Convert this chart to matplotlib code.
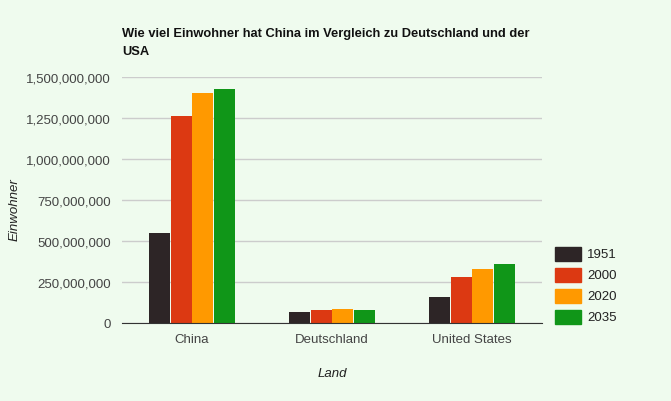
import numpy as np
import matplotlib
matplotlib.use("Agg")
import matplotlib.pyplot as plt
from matplotlib.ticker import FuncFormatter
from matplotlib.patches import Rectangle

countries = ["China", "Deutschland", "United States"]
years = ["1951", "2000", "2020", "2035"]
pop_1951 = [546_000_000, 66_000_000, 157_000_000]
pop_2000 = [1_262_000_000, 82_000_000, 282_000_000]
pop_2020 = [1_404_000_000, 83_000_000, 332_000_000]
pop_2035 = [1_428_000_000, 82_000_000, 362_000_000]
colors = ["#2d2526", "#dc3912", "#ff9900", "#109618"]

bg = "#effbee"
plt.rcParams["font.family"] = ["Liberation Sans", "DejaVu Sans"]

fig = plt.figure(figsize=(6.71, 4.02), dpi=100)
fig.patch.set_facecolor(bg)
W, H = 671, 402
ax = fig.add_axes([122 / W, 1 - 324 / H, 420 / W, 246 / H])
ax.set_facecolor(bg)

x = np.arange(len(countries))
width = 0.148
step = 0.154
series = [pop_1951, pop_2000, pop_2020, pop_2035]
for i, (vals, c) in enumerate(zip(series, colors)):
    ax.bar(x + (i - 1.5) * step, vals, width=width, color=c, zorder=3)

ax.set_xlim(-0.5, 2.5)
ax.set_ylim(0, 1_500_000_000)
ax.set_yticks(np.arange(0, 1_500_000_001, 250_000_000))
ax.yaxis.set_major_formatter(FuncFormatter(lambda v, p: f"{int(v):,}"))
ax.set_xticks(x)
ax.set_xticklabels(countries)
ax.tick_params(axis="both", length=0, labelsize=9.5, colors="#444444", pad=8)
ax.tick_params(axis="x", pad=7)
ax.grid(axis="y", color="#cccccc", linewidth=1, zorder=0)
for s in ["top", "right", "left"]:
    ax.spines[s].set_visible(False)
ax.spines["bottom"].set_color("#333333")
ax.spines["bottom"].set_zorder(4)

fig.text(122 / W, 1 - 28 / H, "Wie viel Einwohner hat China im Vergleich zu Deutschland und der\nUSA",
         fontsize=9.3, fontweight="bold", color="#111111", va="top", ha="left",
         linespacing=1.65)
fig.text(15 / W, 1 - 210 / H, "Einwohner", rotation=90, style="italic", fontsize=9.5,
         color="#222222", ha="center", va="center")
fig.text(332 / W, 1 - 374 / H, "Land", style="italic", fontsize=9.5,
         color="#222222", ha="center", va="center")

# legend
for i, (lab, c) in enumerate(zip(years, colors)):
    yc = 255 + i * 21
    fig.patches.append(Rectangle((555 / W, 1 - (yc + 7) / H), 26 / W, 14 / H,
                                 transform=fig.transFigure, color=c))
    fig.text(587 / W, 1 - yc / H, lab, fontsize=9.5, color="#222222", va="center", ha="left")

fig.savefig("out.png", dpi=100, facecolor=bg)
